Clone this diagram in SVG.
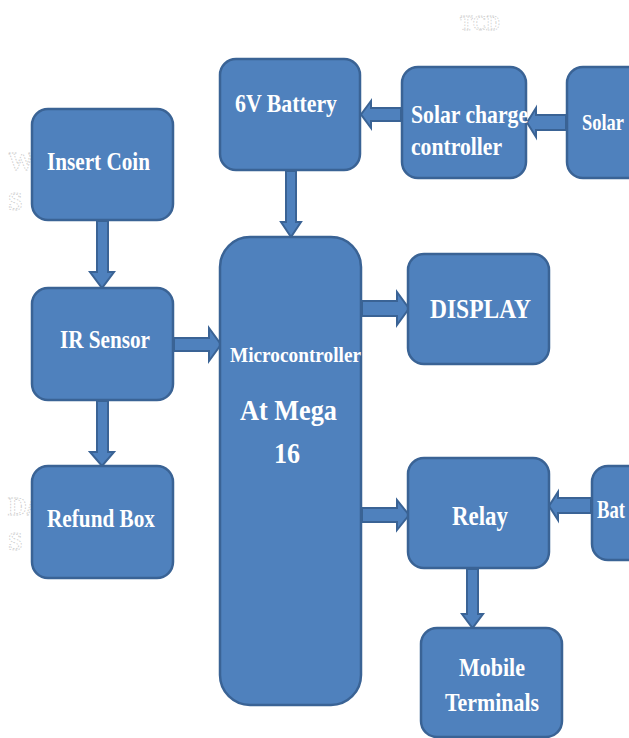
<svg xmlns="http://www.w3.org/2000/svg" width="629" height="738" viewBox="0 0 629 738">
<style>
.box{fill:#4F81BD;stroke:#3A6395;stroke-width:2.5}
.arr{fill:#4F81BD;stroke:#3A6395;stroke-width:2;stroke-linejoin:miter}
.t{font-family:"Liberation Serif","Times New Roman",serif;font-weight:bold;fill:#FFFFFF}
.f{font-family:"Liberation Serif","Times New Roman",serif;font-weight:bold;fill:none;stroke:#C8C8C8;stroke-width:0.8;stroke-dasharray:1.5 1.5}
</style>
<rect width="629" height="738" fill="#FFFFFF"/>
<g id="faint">
<text class="f" x="460" y="30" font-size="22" textLength="40" lengthAdjust="spacingAndGlyphs">TCD</text>
<text class="f" x="8" y="170" font-size="26">W/</text>
<text class="f" x="8" y="210" font-size="26">S</text>
<text class="f" x="8" y="515" font-size="26">D/</text>
<text class="f" x="8" y="550" font-size="26">S</text>
</g>
<g id="connectors">
<polygon class="arr" points="97,221 108,221 108,272 114,272 102,288 90,272 97,272"/>
<polygon class="arr" points="97,401 108,401 108,452 114,452 102,466 90,452 97,452"/>
<polygon class="arr" points="174,338 209,338 209,328 221,344.5 209,361 209,351 174,351"/>
<polygon class="arr" points="286,171 296,171 296,222 301,222 291,237 281,222 286,222"/>
<polygon class="arr" points="401,108 371,108 371,101 361,114.5 371,128 371,121 401,121"/>
<polygon class="arr" points="566,115 536,115 536,108 527,122.5 536,137 536,130 566,130"/>
<polygon class="arr" points="362,301 397,301 397,292 409,308.5 397,325 397,316 362,316"/>
<polygon class="arr" points="362,508 397,508 397,500 409,515 397,530 397,522 362,522"/>
<polygon class="arr" points="591,498 558,498 558,492 549,506 558,520 558,513 591,513"/>
<polygon class="arr" points="467,569 478,569 478,614 483,614 472.5,628 462,614 467,614"/>
</g>
<g id="insert-coin"><rect class="box" x="32" y="109" width="141" height="111" rx="16"/><text class="t" x="47" y="170" font-size="25" textLength="103" lengthAdjust="spacingAndGlyphs">Insert Coin</text></g>
<g id="ir-sensor"><rect class="box" x="32" y="288" width="141" height="112" rx="16"/><text class="t" x="60" y="348" font-size="25" textLength="90" lengthAdjust="spacingAndGlyphs">IR Sensor</text></g>
<g id="refund-box"><rect class="box" x="32" y="466" width="141" height="112" rx="16"/><text class="t" x="47" y="527" font-size="25" textLength="108" lengthAdjust="spacingAndGlyphs">Refund Box</text></g>
<g id="battery-6v"><rect class="box" x="220" y="59" width="140" height="111" rx="16"/><text class="t" x="235" y="112" font-size="25" textLength="102" lengthAdjust="spacingAndGlyphs">6V Battery</text></g>
<g id="microcontroller"><rect class="box" x="220" y="237" width="141" height="468" rx="30"/>
<text class="t" x="230" y="362" font-size="20" textLength="131" lengthAdjust="spacingAndGlyphs">Microcontroller</text>
<text class="t" x="240" y="420" font-size="29" textLength="97" lengthAdjust="spacingAndGlyphs">At Mega</text>
<text class="t" x="274" y="463" font-size="29" textLength="26" lengthAdjust="spacingAndGlyphs">16</text></g>
<g id="solar-charge-controller"><rect class="box" x="402" y="67" width="124" height="111" rx="16"/>
<text class="t" x="411" y="123" font-size="25" textLength="117" lengthAdjust="spacingAndGlyphs">Solar charge</text>
<text class="t" x="411" y="155" font-size="25" textLength="91" lengthAdjust="spacingAndGlyphs">controller</text></g>
<g id="solar"><rect class="box" x="567" y="67" width="90" height="111" rx="16"/><text class="t" x="582" y="130" font-size="24" textLength="42" lengthAdjust="spacingAndGlyphs">Solar</text></g>
<g id="display"><rect class="box" x="408" y="254" width="141" height="110" rx="16"/><text class="t" x="430" y="318" font-size="27" textLength="101" lengthAdjust="spacingAndGlyphs">DISPLAY</text></g>
<g id="relay"><rect class="box" x="408" y="458" width="141" height="110" rx="16"/><text class="t" x="452" y="525" font-size="27" textLength="56" lengthAdjust="spacingAndGlyphs">Relay</text></g>
<g id="battery"><rect class="box" x="592" y="466" width="70" height="94" rx="16"/><text class="t" x="597" y="518" font-size="25" textLength="28" lengthAdjust="spacingAndGlyphs">Bat</text></g>
<g id="mobile-terminals"><rect class="box" x="421" y="628" width="141" height="109" rx="16"/>
<text class="t" x="459" y="676" font-size="25" textLength="66" lengthAdjust="spacingAndGlyphs">Mobile</text>
<text class="t" x="445" y="711" font-size="25" textLength="94" lengthAdjust="spacingAndGlyphs">Terminals</text></g>
</svg>
